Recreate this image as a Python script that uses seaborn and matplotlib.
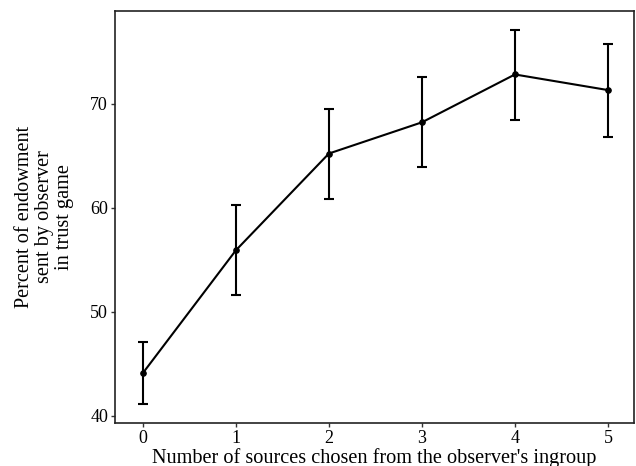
import matplotlib
matplotlib.use("Agg")
import matplotlib.pyplot as plt
import seaborn as sns
import pandas as pd

sources = [0, 1, 2, 3, 4, 5]
mean_pct = [44.1, 55.9, 65.2, 68.2, 72.8, 71.3]
ci_low = [41.1, 51.6, 60.8, 63.9, 68.4, 66.8]
ci_high = [47.05, 60.3, 69.5, 72.6, 77.1, 75.7]
x_ticks = [0, 1, 2, 3, 4, 5]
y_ticks = [40, 50, 60, 70]

sns.set_theme(style="white")
plt.rcParams["font.family"] = ["Liberation Serif", "DejaVu Serif"]

df = pd.DataFrame({"sources": sources, "mean": mean_pct, "lo": ci_low, "hi": ci_high})

fig = plt.figure(figsize=(6.36, 4.66), dpi=100)
ax = fig.add_axes([0.1808, 0.0923, 0.816, 0.8841])

ax.errorbar(df["sources"], df["mean"],
            yerr=[df["mean"] - df["lo"], df["hi"] - df["mean"]],
            fmt="none", ecolor="black", elinewidth=1.5, capsize=3.5, capthick=1.5)
sns.lineplot(data=df, x="sources", y="mean", ax=ax, color="black", linewidth=1.5,
             marker="o", markersize=4, markeredgecolor="black")

ax.set_xlim(-0.3, 5.28)
ax.set_ylim(39.3, 78.9)
ax.set_xticks(x_ticks)
ax.set_yticks(y_ticks)
ax.tick_params(axis="both", which="major", direction="out", length=3, width=1,
               labelsize=13, labelcolor="black", color="#333333",
               bottom=True, left=True, pad=2)
for sp in ax.spines.values():
    sp.set_color("#222222")
    sp.set_linewidth(1.2)

ax.set_xlabel("Number of sources chosen from the observer's ingroup", fontsize=14.6,
              labelpad=1, color="black")
ax.set_ylabel("Percent of endowment\nsent by observer\nin trust game", fontsize=14.6,
              linespacing=1.05, labelpad=12, color="black")

fig.savefig("out.png", dpi=100)
